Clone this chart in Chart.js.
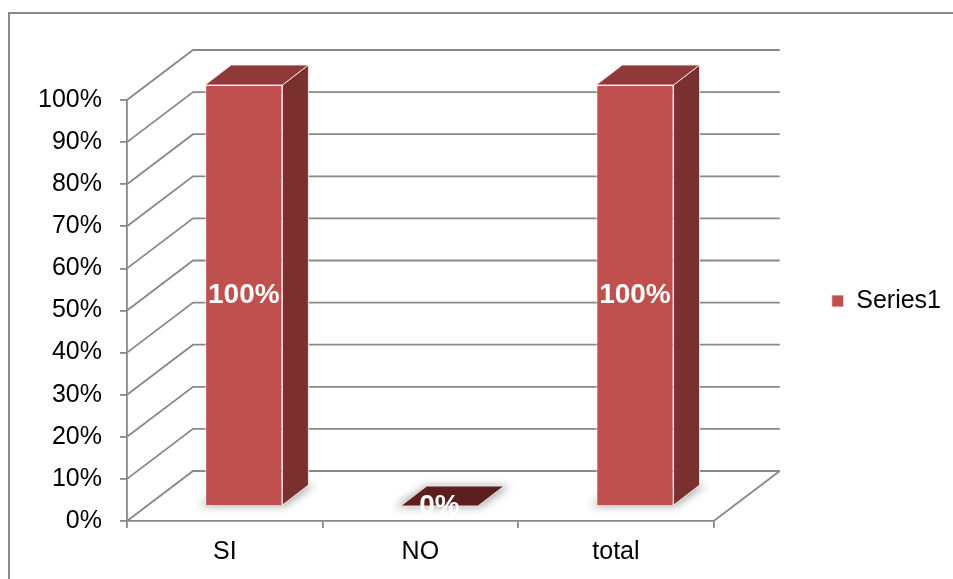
<!DOCTYPE html>
<html lang="en">
<head>
<meta charset="UTF-8">
<title>Series1</title>
<script src="https://cdn.jsdelivr.net/npm/chart.js"></script>
<style>
  html, body { margin: 0; padding: 0; background: #fff; }
  #wrap { width: 953px; height: 579px; }
</style>
</head>
<body>
<div id="wrap"><canvas id="chart" width="953" height="579"></canvas></div>

<script>
// Data
const categories = ['SI', 'NO', 'total'];
const seriesName = 'Series1';
const percentValues = [100, 0, 100];
const tickValues = [0, 10, 20, 30, 40, 50, 60, 70, 80, 90, 100];

// 3D look: wall depth, bar placement inside the depth, bar thickness
const WALL = { dx: 66, dy: -50 };
const BAR_SHIFT = { dx: 19, dy: -15 };
const BAR_DEPTH = { dx: 26, dy: -20 };

const FONT = 'Liberation Sans, Arial, sans-serif';
const LINE = '#888888';
const FRONT = '#c0504d';
const SIDE = '#7b3030';
const TOP = '#8f3a38';
const FLAT_TOP = '#5c1f1f';

function poly(ctx, pts) {
  ctx.beginPath();
  ctx.moveTo(pts[0][0], pts[0][1]);
  for (let i = 1; i < pts.length; i++) ctx.lineTo(pts[i][0], pts[i][1]);
  ctx.closePath();
}

const box3d = {
  id: 'box3d',
  beforeDraw(chart) {
    const ctx = chart.ctx;
    ctx.save();
    ctx.strokeStyle = LINE;
    ctx.lineWidth = 2;
    ctx.strokeRect(9, 13, 2000, 2000);
    ctx.restore();
  },
  beforeDatasetsDraw(chart) {
    const { ctx, chartArea: a, scales: { y } } = chart;

    // side wall, back wall and floor lines
    ctx.save();
    ctx.strokeStyle = LINE;
    ctx.lineWidth = 1.8;
    y.ticks.forEach(t => {
      const py = y.getPixelForValue(t.value);
      ctx.beginPath();
      ctx.moveTo(a.left, py);
      ctx.lineTo(a.left + WALL.dx, py + WALL.dy);
      ctx.lineTo(a.right + WALL.dx, py + WALL.dy);
      ctx.stroke();
    });
    const floor = y.getPixelForValue(0);
    ctx.beginPath();
    ctx.moveTo(a.right, floor);
    ctx.lineTo(a.right + WALL.dx, floor + WALL.dy);
    ctx.stroke();
    ctx.restore();

    // bars sit inside the depth; front faces are drawn by Chart.js in this frame
    ctx.save();
    ctx.translate(BAR_SHIFT.dx, BAR_SHIFT.dy);
    const meta = chart.getDatasetMeta(0);
    meta.data.forEach(bar => {
      const p = bar.getProps(['x', 'y', 'base', 'width'], true);
      const l = p.x - p.width / 2, r = p.x + p.width / 2;
      const top = Math.min(p.y, p.base), bottom = Math.max(p.y, p.base);
      const dx = BAR_DEPTH.dx, dy = BAR_DEPTH.dy;

      // soft shadow on the floor
      ctx.save();
      ctx.filter = 'blur(4px)';
      ctx.fillStyle = 'rgba(0,0,0,0.35)';
      poly(ctx, [[l - 6, bottom + 1], [r + 2, bottom + 1], [r + dx + 6, bottom + dy], [l + dx, bottom + dy]]);
      ctx.fill();
      ctx.restore();

      ctx.strokeStyle = 'rgba(255,240,240,0.85)';
      ctx.lineWidth = 1;
      if (bottom - top > 0.5) {
        poly(ctx, [[r, top], [r + dx, top + dy], [r + dx, bottom + dy], [r, bottom]]);
        ctx.fillStyle = SIDE;
        ctx.fill();
        ctx.stroke();
      }
      poly(ctx, [[l, top], [l + dx, top + dy], [r + dx, top + dy], [r, top]]);
      ctx.fillStyle = bottom - top > 0.5 ? TOP : FLAT_TOP;
      ctx.fill();
      ctx.stroke();
    });
  },
  afterDatasetsDraw(chart) {
    const ctx = chart.ctx;
    const meta = chart.getDatasetMeta(0);
    ctx.fillStyle = '#fff';
    ctx.font = 'bold 28px ' + FONT;
    ctx.textAlign = 'center';
    ctx.textBaseline = 'middle';
    meta.data.forEach((bar, i) => {
      const p = bar.getProps(['x', 'y', 'base'], true);
      ctx.fillText(percentValues[i] + '%', p.x, (p.y + p.base) / 2);
    });
    ctx.restore();
  }
};

const tickFont = { family: FONT, size: 25 };

new Chart(document.getElementById('chart'), {
  type: 'bar',
  data: {
    labels: categories,
    datasets: [{
      label: seriesName,
      data: percentValues,
      backgroundColor: FRONT,
      borderColor: 'rgba(255,240,240,0.85)',
      borderWidth: 1,
      barPercentage: 0.395,
      categoryPercentage: 1,
      clip: false
    }]
  },
  options: {
    responsive: false,
    animation: false,
    layout: { padding: { top: 23, right: 2, bottom: 0, left: 0 } },
    plugins: {
      tooltip: { enabled: false },
      legend: {
        position: 'right',
        labels: { font: tickFont, color: '#000', boxWidth: 12, boxHeight: 12, padding: 8 }
      }
    },
    scales: {
      x: {
        afterFit: s => { s.height = 58; },
        ticks: { font: tickFont, color: '#000', padding: 9 },
        grid: { drawOnChartArea: false, offset: true, tickLength: 7, color: LINE, lineWidth: 1.8 },
        border: { color: LINE, width: 1.8 }
      },
      y: {
        min: 0,
        max: 100,
        afterFit: s => { s.width = 127; },
        afterBuildTicks: s => { s.ticks = tickValues.map(v => ({ value: v })); },
        ticks: { font: tickFont, color: '#000', padding: 18, callback: v => v + '%' },
        grid: { drawOnChartArea: false, tickLength: 7, color: LINE, lineWidth: 1.8 },
        border: { color: LINE, width: 1.8 }
      },
      // empty boxes that leave room above the plot and for the depth on the right
      xTop: {
        type: 'category',
        position: 'top',
        afterFit: s => { s.height = 77; },
        ticks: { display: false },
        grid: { display: false },
        border: { display: false }
      },
      depth: {
        type: 'linear',
        position: 'right',
        afterFit: s => { s.width = 110; },
        ticks: { display: false },
        grid: { display: false },
        border: { display: false }
      }
    }
  },
  plugins: [box3d]
});
</script>
</body>
</html>
